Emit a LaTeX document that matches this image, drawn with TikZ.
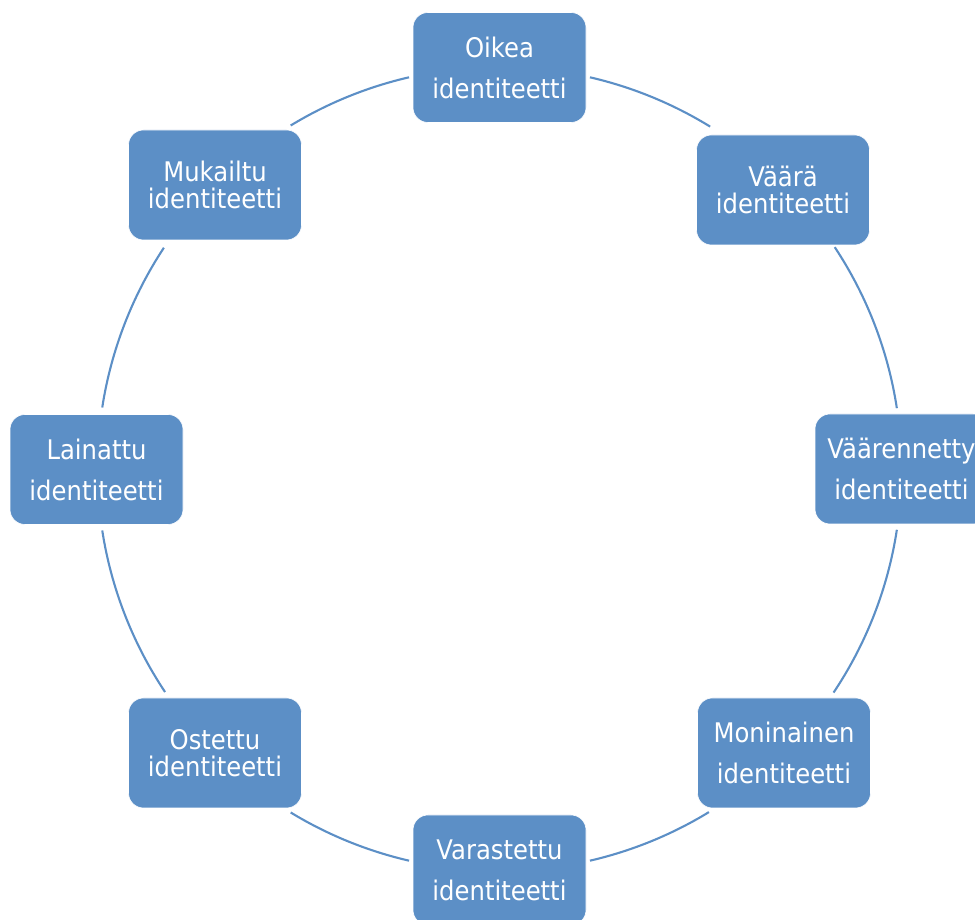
\documentclass[tikz,border=0pt]{standalone}
\usepackage{fontspec}
\setmainfont{DejaVu Sans}[FakeStretch=0.9]
\usetikzlibrary{calc}
\definecolor{boxblue}{RGB}{92,143,198}
\definecolor{lineblue}{RGB}{92,143,198}
\tikzset{
  idbox/.style={draw=white, line width=0.6pt, fill=boxblue, rounded corners=15pt,
    minimum width=173pt, minimum height=110pt, inner sep=0pt,
    text=white, align=center},
  widetext/.style={font=\fontsize{27}{41}\selectfont},
  tighttext/.style={font=\fontsize{27}{26.5}\selectfont},
  conn/.style={draw=lineblue, line width=2.1pt}
}
\begin{document}
\begin{tikzpicture}[x=1pt,y=1pt]
\useasboundingbox (0,0) rectangle (975,920);
\clip (0,0) rectangle (975,920);
\coordinate (c) at (499.5,451);
% arcs
\foreach \s/\e [count=\i] in {77/58.4, 33.5/8.7, -8.7/-33.8, -58.6/-77,
    -103/-121.3, -146.3/-171.2, 171.2/146.6, 121.3/103} {
  \coordinate (s\i) at ($(c)+(\s:402)$);
  \draw[conn] (s\i) arc[start angle=\s, end angle=\e, radius=402];
}
% boxes
\node[idbox, widetext]  (oikea)  at (499.5,852.5) {Oikea\\identiteetti};
\node[idbox, tighttext] (vaara)  at (783,730)     {Väärä\\identiteetti};
\node[idbox, widetext]  (vaaren) at (901.5,451)   {Väärennetty\\identiteetti};
\node[idbox, widetext]  (monin)  at (784,167)     {Moninainen\\identiteetti};
\node[idbox, widetext]  (varas)  at (499.5,50)    {Varastettu\\identiteetti};
\node[idbox, tighttext] (ostet)  at (215,167)     {Ostettu\\identiteetti};
\node[idbox, widetext]  (laina)  at (96.5,450.5)  {Lainattu\\identiteetti};
\node[idbox, tighttext] (mukai)  at (215,735)     {Mukailtu\\identiteetti};
\end{tikzpicture}
\end{document}
